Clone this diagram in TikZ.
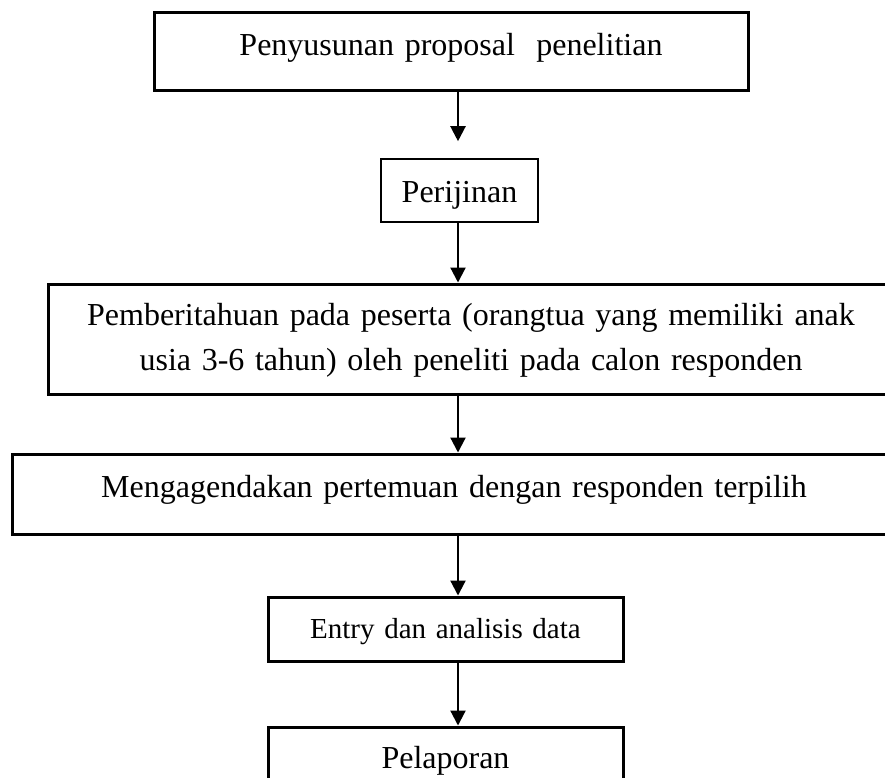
\documentclass[tikz,border=0pt]{standalone}
\usepackage{fontspec}
\setmainfont{Liberation Serif}
\usetikzlibrary{arrows.meta}

\tikzset{
  stepbox/.style={draw, line width=3pt, inner sep=0pt, align=center,
    font=\fontsize{32}{45}\selectfont},
  flowarrow/.style={-{Triangle[width=15pt,length=15pt]}, line width=2.2pt},
}

\begin{document}
\begin{tikzpicture}[x=1pt,y=-1pt]
\path[use as bounding box] (0,0) rectangle (885,777);
\clip (0,0) rectangle (885,777);
\coordinate (spine) at (458,0);

% steps
\node[stepbox, text width=594pt, text height=43pt, text depth=35pt] (proposal) at (451,51)
  {Penyusunan proposal\ \ penelitian};

\node[stepbox, line width=1.6pt, text width=157pt, text height=43pt, text depth=20pt] (perijinan) at (459.5,190.5)
  {Perijinan};

\node[stepbox, text width=846pt, text height=41pt, text depth=69pt] (pemberitahuan) at (471,339)
  {Pemberitahuan pada peserta (orangtua yang memiliki anak\\
   usia 3-6 tahun) oleh peneliti pada calon responden};

\node[stepbox, text width=884pt, text height=43pt, text depth=37pt] (pertemuan) at (454,494)
  {Mengagendakan pertemuan dengan responden terpilih};

\node[stepbox, font=\fontsize{29}{34}\selectfont, text width=355pt, text height=41pt, text depth=23pt] (analisis) at (445.5,629)
  {Entry dan analisis data};

\node[stepbox, text width=355pt, text height=41pt, text depth=22pt] (pelaporan) at (445.5,758.5)
  {Pelaporan};

% arrows
\draw[flowarrow, shorten >=17pt] (proposal.south -| spine) -- (perijinan.north -| spine);
\draw[flowarrow] (perijinan.south -| spine) -- (pemberitahuan.north -| spine);
\draw[flowarrow] (pemberitahuan.south -| spine) -- (pertemuan.north -| spine);
\draw[flowarrow] (pertemuan.south -| spine) -- (analisis.north -| spine);
\draw[flowarrow] (analisis.south -| spine) -- (pelaporan.north -| spine);
\end{tikzpicture}
\end{document}
